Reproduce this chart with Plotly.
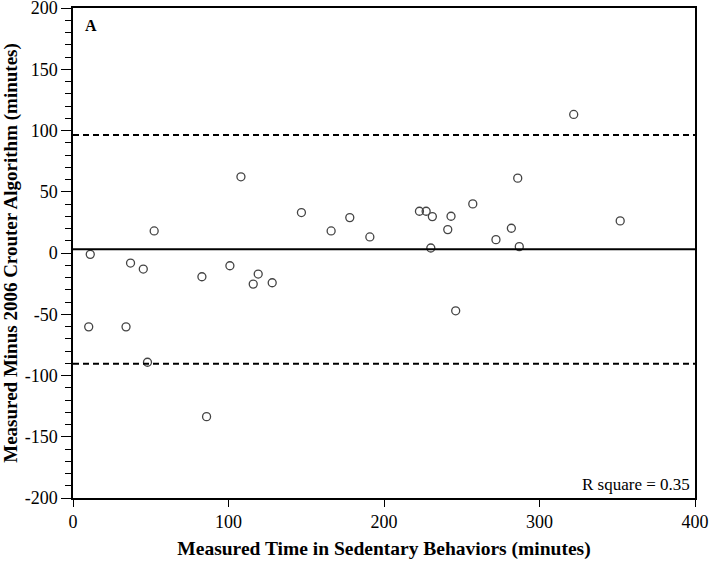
import plotly.graph_objects as go

# Data
measured_time = [11.1, 10.1, 34.1, 37.0, 45.2, 47.9, 52.2, 82.9, 85.9, 100.9, 108.0,
                 115.9, 119.1, 128.1, 146.9, 166.0, 178.0, 190.9, 222.8, 227.1, 231.1,
                 230.1, 241.0, 243.1, 246.1, 257.1, 272.0, 281.9, 286.0, 287.0, 322.0, 351.9]
difference = [-1.1, -60.3, -60.3, -8.2, -13.1, -89.2, 18.0, -19.4, -133.6, -10.4, 62.2,
              -25.4, -17.2, -24.3, 33.0, 18.0, 28.9, 13.1, 34.1, 34.1, 29.7,
              4.1, 19.1, 30.0, -47.2, 40.1, 10.9, 20.2, 61.1, 5.2, 113.1, 26.2]
mean_diff = 3.0
upper_loa = 96.3
lower_loa = -90.4
x_ticks = [0, 100, 200, 300, 400]
y_ticks = [-200, -150, -100, -50, 0, 50, 100, 150, 200]
y_tick_text = ["-200", "-150", "-100", "-50", "0", "50", "100", "150", "200"]

font_family = "Liberation Serif, Times New Roman, serif"

fig = go.Figure()
fig.add_trace(go.Scatter(
    x=measured_time, y=difference, mode="markers",
    marker=dict(symbol="circle-open", size=8, color="#444444", line=dict(width=1.3)),
    showlegend=False, hoverinfo="x+y"))

fig.add_hline(y=mean_diff, line=dict(color="black", width=2))
fig.add_hline(y=upper_loa, line=dict(color="black", width=2, dash="6px,4px"))
fig.add_hline(y=lower_loa, line=dict(color="black", width=2, dash="6px,4px"))

fig.add_annotation(x=0.016, y=0.985, xref="paper", yref="paper", text="<b>A</b>",
                   showarrow=False, xanchor="left", yanchor="top",
                   font=dict(family=font_family, size=16, color="black"))
fig.add_annotation(x=0.995, y=0.005, xref="paper", yref="paper", text="R square = 0.35",
                   showarrow=False, xanchor="right", yanchor="bottom",
                   font=dict(family=font_family, size=17, color="black"))

fig.update_xaxes(range=[0, 400], tickvals=x_ticks, ticks="outside", ticklen=7,
                 tickwidth=1.3, tickcolor="black", showline=True, linecolor="black",
                 linewidth=1.5, mirror=True, showgrid=False, zeroline=False,
                 automargin=False, ticklabeloverflow="allow",
                 tickfont=dict(family=font_family, size=18, color="black"),
                 title=dict(text="<b>Measured Time in Sedentary Behaviors (minutes)</b>",
                            font=dict(family=font_family, size=19.5, color="black"),
                            standoff=10))
fig.update_yaxes(range=[-200, 200], tickvals=y_ticks, ticktext=y_tick_text,
                 ticks="outside", ticklen=10,
                 tickwidth=1.3, tickcolor="black", showline=True, linecolor="black",
                 linewidth=1.5, mirror=True, showgrid=False, zeroline=False,
                 automargin=False, ticklabeloverflow="allow",
                 minor=dict(dtick=10, ticks="outside", ticklen=6, tickwidth=1,
                            tickcolor="black", showgrid=False),
                 tickfont=dict(family=font_family, size=18, color="black"),
                 title=dict(text="<b>Measured Minus 2006 Crouter Algorithm (minutes)</b>",
                            font=dict(family=font_family, size=19, color="black"),
                            standoff=4))

fig.update_layout(width=716, height=562,
                  margin=dict(l=73, r=21, t=8, b=64),
                  plot_bgcolor="white", paper_bgcolor="white")

fig.write_html("out.html", config={"displayModeBar": False},
               post_script="document.body.style.margin='0';document.body.style.overflow='hidden';")
